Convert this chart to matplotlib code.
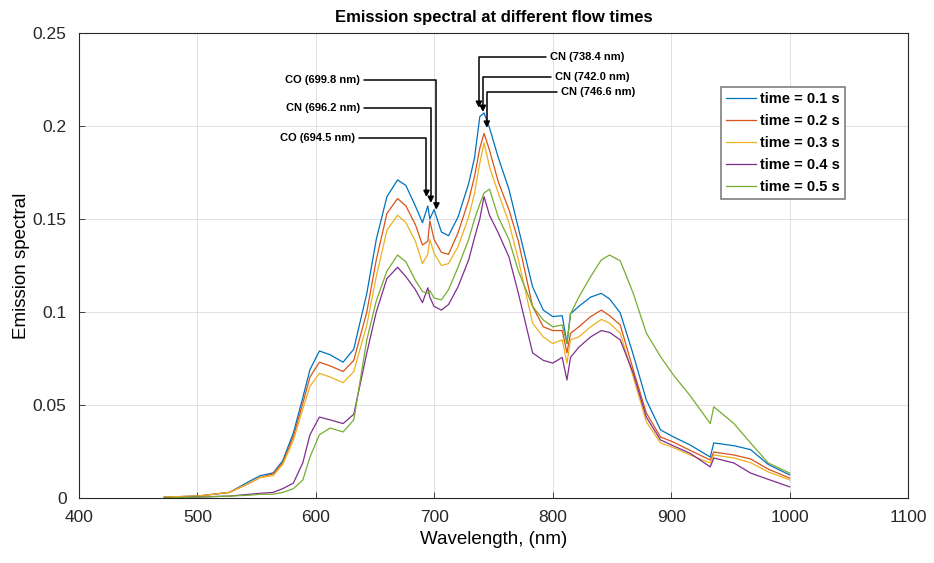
#!/usr/bin/env python3
"""Emission spectra at different flow times (MATLAB-style figure)."""

import matplotlib
matplotlib.use("Agg")
import matplotlib.pyplot as plt
import matplotlib.ticker as ticker

plt.rcParams.update({
    "font.family": ["Liberation Sans", "DejaVu Sans"],
    "font.size": 11,
    "axes.edgecolor": "#262626",
    "xtick.color": "#262626",
    "ytick.color": "#262626",
})

# Data
wavelength = [472, 500, 527, 544, 553, 564, 572, 581, 589, 595, 603, 612, 623,
              632, 643, 651, 660, 669, 676, 684, 690, 694.5, 696.2, 699.8, 706,
              712, 720, 729, 734, 738.4, 742.0, 746.6, 754, 763, 771, 783, 792,
              800, 808, 812, 815, 822, 832, 841, 848, 857, 868, 879, 891, 902,
              916, 933, 936, 953, 967, 982, 1000]

t01 = [0.0005, 0.001, 0.003, 0.009, 0.012, 0.0135, 0.020, 0.035, 0.054, 0.069,
       0.079, 0.077, 0.073, 0.080, 0.110, 0.139, 0.162, 0.171, 0.168, 0.157,
       0.148, 0.157, 0.150, 0.155, 0.143, 0.141, 0.151, 0.169, 0.183, 0.205,
       0.207, 0.199, 0.183, 0.166, 0.145, 0.1135, 0.101, 0.0975, 0.098, 0.083,
       0.099, 0.103, 0.108, 0.110, 0.107, 0.0995, 0.077, 0.0527, 0.0366,
       0.0328, 0.0285, 0.022, 0.0296, 0.0281, 0.026, 0.018, 0.0124]

t02 = [0.0005, 0.001, 0.003, 0.008, 0.011, 0.013, 0.019, 0.033, 0.051, 0.065,
       0.073, 0.071, 0.068, 0.074, 0.100, 0.128, 0.153, 0.161, 0.157, 0.147,
       0.136, 0.138, 0.149, 0.139, 0.132, 0.131, 0.1425, 0.160, 0.173, 0.188,
       0.196, 0.187, 0.170, 0.155, 0.138, 0.103, 0.092, 0.090, 0.090, 0.078,
       0.0885, 0.092, 0.0975, 0.101, 0.098, 0.093, 0.0688, 0.0457, 0.0328,
       0.030, 0.0256, 0.0204, 0.0247, 0.0231, 0.021, 0.0155, 0.0107]

t03 = [0.0005, 0.001, 0.003, 0.008, 0.011, 0.012, 0.018, 0.031, 0.048, 0.060,
       0.067, 0.065, 0.062, 0.068, 0.093, 0.119, 0.144, 0.152, 0.148, 0.138,
       0.126, 0.131, 0.139, 0.1315, 0.125, 0.126, 0.135, 0.151, 0.164, 0.180,
       0.191, 0.178, 0.164, 0.148, 0.128, 0.094, 0.0866, 0.083, 0.085, 0.0725,
       0.085, 0.0866, 0.092, 0.096, 0.094, 0.0885, 0.065, 0.041, 0.0296,
       0.027, 0.0231, 0.0188, 0.0231, 0.0215, 0.019, 0.014, 0.0097]

t04 = [0.0, 0.0005, 0.001, 0.002, 0.0025, 0.003, 0.005, 0.008, 0.019, 0.034,
       0.0435, 0.042, 0.040, 0.045, 0.078, 0.100, 0.118, 0.124, 0.119, 0.112,
       0.105, 0.113, 0.108, 0.103, 0.101, 0.104, 0.1135, 0.128, 0.140, 0.150,
       0.162, 0.152, 0.1425, 0.1296, 0.110, 0.078, 0.074, 0.0725, 0.0756,
       0.0634, 0.0756, 0.081, 0.0866, 0.090, 0.089, 0.085, 0.067, 0.0435,
       0.0312, 0.028, 0.024, 0.0167, 0.0215, 0.0188, 0.0134, 0.010, 0.006]

t05 = [0.0, 0.0005, 0.001, 0.0015, 0.002, 0.002, 0.003, 0.005, 0.0097, 0.022,
       0.034, 0.0376, 0.0355, 0.042, 0.085, 0.106, 0.122, 0.1306, 0.127, 0.117,
       0.111, 0.110, 0.1115, 0.1075, 0.1065, 0.112, 0.124, 0.139, 0.150, 0.158,
       0.164, 0.166, 0.151, 0.139, 0.122, 0.103, 0.0957, 0.092, 0.093, 0.083,
       0.099, 0.108, 0.119, 0.128, 0.1306, 0.1275, 0.110, 0.0887, 0.076, 0.066,
       0.055, 0.040, 0.049, 0.040, 0.0296, 0.0188, 0.0134]

series = [t01, t02, t03, t04, t05]
labels = ["time = 0.1 s", "time = 0.2 s", "time = 0.3 s", "time = 0.4 s", "time = 0.5 s"]
colors = ["#0072BD", "#D95319", "#EDB120", "#7E2F8E", "#77AC30"]

# Annotations: label, arrow x, arrow tip y, elbow y, text x, side of text
notes = [
    ("CO (699.8 nm)", 701.8, 0.155, 0.2247, 637, "left"),
    ("CN (696.2 nm)", 697.0, 0.1586, 0.2098, 637, "left"),
    ("CO (694.5 nm)", 693.4, 0.1618, 0.1935, 633, "left"),
    ("CN (738.4 nm)", 737.6, 0.2097, 0.2370, 798, "right"),
    ("CN (742.0 nm)", 741.0, 0.2075, 0.2265, 802, "right"),
    ("CN (746.6 nm)", 744.3, 0.1990, 0.2180, 807, "right"),
]

fig = plt.figure(figsize=(9.34, 5.63), dpi=100)
ax = fig.add_axes([0.0846, 0.1155, 0.8876, 0.826])

for y, lab, c in zip(series, labels, colors):
    ax.plot(wavelength, y, color=c, lw=0.9, label=lab)

for text, x, tip, elbow, tx, side in notes:
    ha = "right" if side == "left" else "left"
    rel = (1.0, 0.5) if side == "left" else (0.0, 0.5)
    ax.annotate(text, xy=(x, tip), xytext=(tx, elbow), ha=ha, va="center",
                fontsize=8, fontweight="bold",
                arrowprops=dict(arrowstyle="-|>", color="black", lw=1.1,
                                shrinkA=1, shrinkB=0, relpos=rel,
                                mutation_scale=9,
                                connectionstyle="angle,angleA=0,angleB=90,rad=0"))

ax.set_xlim(400, 1100)
ax.set_ylim(0, 0.25)
ax.set_xticks(range(400, 1101, 100))
ax.set_yticks([0, 0.05, 0.1, 0.15, 0.2, 0.25])
ax.yaxis.set_major_formatter(ticker.FuncFormatter(lambda v, p: f"{v:g}"))
ax.tick_params(direction="in", length=4, width=0.6, labelsize=12.5)
ax.tick_params(axis="x", pad=9)
ax.tick_params(axis="y", pad=9)
ax.grid(True, color="#dcdcdc", lw=0.6)
ax.set_axisbelow(True)
for s in ax.spines.values():
    s.set_linewidth(0.8)

ax.set_xlabel("Wavelength, (nm)", fontsize=13.5, labelpad=4)
ax.set_ylabel("Emission spectral", fontsize=13.5, labelpad=2)
ax.set_title("Emission spectral at different flow times", fontsize=12,
             fontweight="bold", pad=8)

leg = ax.legend(loc="upper left", bbox_to_anchor=(0.766, 0.9), fancybox=False,
                framealpha=1, edgecolor="#7f7f7f", handlelength=2.0,
                handletextpad=0.3, borderpad=0.35, labelspacing=0.55,
                prop={"weight": "bold", "size": 10.5})
leg.get_frame().set_linewidth(1.2)

fig.savefig("out.png")
